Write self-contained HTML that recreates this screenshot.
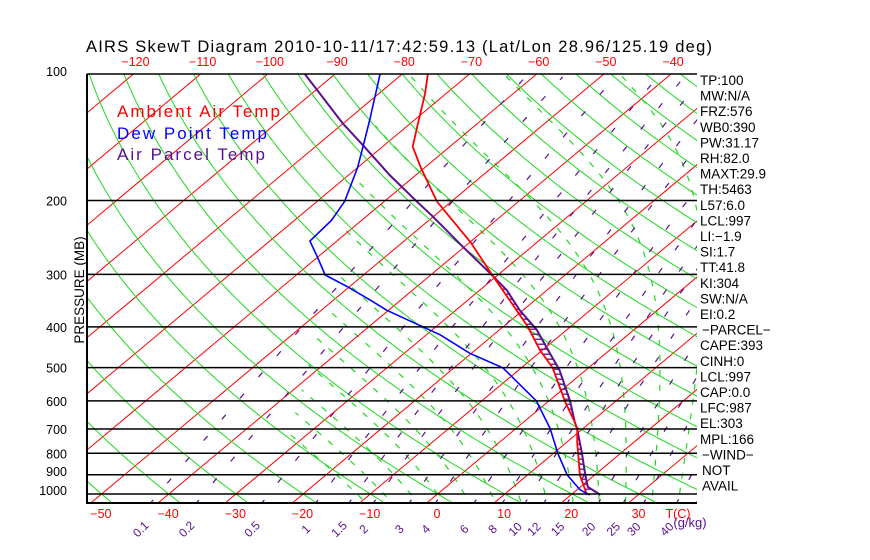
<!DOCTYPE html>
<html><head><meta charset="utf-8"><style>
html,body{margin:0;padding:0;background:#fff;width:870px;height:560px;overflow:hidden}
svg text{font-family:"Liberation Sans",sans-serif}
</style></head><body>
<svg id="chart" width="870" height="560" xmlns="http://www.w3.org/2000/svg">
<defs><clipPath id="box"><rect x="87" y="74" width="610" height="429"/></clipPath>
<clipPath id="moistclip"><polygon points="270,503 390,74 697,74 697,503"/></clipPath></defs>
<rect width="870" height="560" fill="#fff"/>
<text x="86" y="52" font-size="16.5" fill="#000" textLength="626" lengthAdjust="spacing">AIRS SkewT Diagram 2010-10-11/17:42:59.13 (Lat/Lon 28.96/125.19 deg)</text>
<g id="grid" clip-path="url(#box)"><g id="moist" clip-path="url(#moistclip)"></g></g>
<g id="profiles" clip-path="url(#box)"></g>
<g id="frame"></g>
<g id="labels"></g>
<text transform="translate(84,290) rotate(-90)" text-anchor="middle" font-size="13.5" fill="#000">PRESSURE (MB)</text>
<text x="117" y="117" font-size="17" fill="#ff0000" textLength="163" lengthAdjust="spacing">Ambient Air Temp</text>
<text x="117" y="139" font-size="17" fill="#0000ff" textLength="150" lengthAdjust="spacing">Dew Point Temp</text>
<text x="117" y="160" font-size="17" fill="#5a1090" textLength="148" lengthAdjust="spacing">Air Parcel Temp</text>
</svg>
<script>
const pressureLevels=[100,200,300,400,500,600,700,800,900,1000];
const topTempTicks=[-120,-110,-100,-90,-80,-70,-60,-50,-40];
const bottomTempTicks=[-50,-40,-30,-20,-10,0,10,20,30];
const mixingRatios=[0.1,0.2,0.5,1,1.5,2,3,4,6,8,10,12,15,20,25,30,40];
const ambientP=[100,111,131,149,167,201,251,303,355,400,454,501,601,674,700,756,901,1005];
const ambientT=[-76.2,-73.2,-68.9,-65.5,-60.6,-52.2,-40.0,-30.5,-22.4,-16.3,-10.4,-5.3,2.4,7.6,9.2,11.7,17.8,22.4];
const dewP=[100,129,149,167,201,223,250,270,301,321,345,365,418,462,501,601,700,799,901,978,1005];
const dewT=[-83.3,-76.6,-72.9,-70.0,-65.9,-64.5,-64.0,-60.5,-55.7,-50.3,-44.6,-40.3,-27.9,-20.3,-12.7,-1.8,5.2,10.6,15.9,20.5,22.8];
const parcelP=[100,131,149,174,201,218,258,303,327,365,407,454,507,601,674,700,799,901,962,1005];
const parcelT=[-94.5,-80.1,-72.7,-63.9,-55.2,-50.2,-40.2,-30.5,-26.0,-20.5,-14.4,-9.2,-3.9,3.2,7.6,9.2,14.2,18.6,21.1,24.4];
const indexLabels=["TP:100","MW:N/A","FRZ:576","WB0:390","PW:31.17","RH:82.0","MAXT:29.9","TH:5463","L57:6.0","LCL:997","LI:\u22121.9","SI:1.7","TT:41.8","KI:304","SW:N/A","EI:0.2","\u2212PARCEL\u2212","CAPE:393","CINH:0","LCL:997","CAP:0.0","LFC:987","EL:303","MPL:166","\u2212WIND\u2212","NOT","AVAIL"];

const NS="http://www.w3.org/2000/svg";
function yOf(p){return 494-182.4*Math.log(1000/p);}
function xOf(T,p){return 158+(T+40)*6.72+(503-yOf(p))*1.196;}
function mk(tag,parent,attrs){const e=document.createElementNS(NS,tag);for(const k in attrs)e.setAttribute(k,attrs[k]);parent.appendChild(e);return e;}
const grid=document.getElementById('grid'),moist=document.getElementById('moist'),prof=document.getElementById('profiles'),frame=document.getElementById('frame'),labels=document.getElementById('labels');
function pathFrom(pts){return 'M'+pts.map(q=>q[0].toFixed(1)+','+q[1].toFixed(1)).join('L');}
const pSteps=[];for(let lp=Math.log(1060);lp>=Math.log(95);lp-=0.02)pSteps.push(Math.exp(lp));

for(let T=-170;T<=50;T+=10){
 const l=mk('line',grid,{x1:xOf(T,1060),y1:yOf(1060),x2:xOf(T,95),y2:yOf(95),stroke:'#ff0000','stroke-width':1});
 
 
}
for(let th=-60;th<=200;th+=10){
 const pts=pSteps.map(p=>[xOf((th+273.15)*Math.pow(p/1000,0.286)-273.15,p),yOf(p)]);
 const e=mk('path',grid,{d:pathFrom(pts),fill:'none',stroke:'#1ed81e','stroke-width':1});
 
 
}
function es(T){return 6.112*Math.exp(17.67*T/(T+243.5));}
for(let T0=-12;T0<=44;T0+=4){
 function integ(dir){let Tk=T0+273.15,res=[];for(let lp=Math.log(1000);dir<0?lp>=Math.log(95):lp<=Math.log(1060);lp+=dir*0.01){const p=Math.exp(lp);res.push([xOf(Tk-273.15,p),yOf(p)]);const e=es(Tk-273.15),rs=0.622*e/(p-e);const num=287*Tk+2.5e6*rs,den=1004+2.5e6*2.5e6*rs*0.622/(287*Tk*Tk);Tk+=dir*0.01*num/den;}return res;}
 const pts=integ(-1).reverse().concat(integ(1));
 const e=mk('path',moist,{d:pathFrom(pts),fill:'none',stroke:'#1ed81e','stroke-width':1.2,'stroke-dasharray':'6 9'});
 
 
}
mixingRatios.forEach(w=>{
 const pts=[];for(let p=1060;p>=100;p*=0.97){const e=w*p/(622+w),l=Math.log(e/6.112);const Td=243.5*l/(17.67-l);pts.push([xOf(Td,p),yOf(p)]);}
 const e=mk('path',grid,{d:pathFrom(pts),fill:'none',stroke:'#5a1090','stroke-width':1.2,'stroke-dasharray':'6 22'});
 
 
 const p=1050,ee=w*p/(622+w),l=Math.log(ee/6.112),Td=243.5*l/(17.67-l);
 const tx=xOf(Td,p)-7;
 const t=mk('text',labels,{transform:`translate(${tx.toFixed(1)},${532}) rotate(-45)`,'font-size':12,fill:'#5a1090','text-anchor':'middle'});
 t.textContent=String(w);
 
 
});
const gk=mk('text',labels,{x:690,y:527,'font-size':13,fill:'#5a1090','text-anchor':'middle'});gk.textContent='(g/kg)';



pressureLevels.forEach(p=>{
 const y=yOf(p);
 const l=mk('line',frame,{x1:87,x2:697,y1:y,y2:y,stroke:'#000','stroke-width':1.5});
 
 
 const t=mk('text',labels,{x:67,y:y+(p==100?2:p>=900?1:5),'font-size':12.5,fill:'#000','text-anchor':'end'});
 t.textContent=String(p);
 
 
});
const fb=mk('path',frame,{d:'M87,74V503H697',fill:'none',stroke:'#000','stroke-width':2});



topTempTicks.forEach(T=>{
 const t=mk('text',labels,{x:xOf(T,100)+2,y:66,'font-size':12.5,fill:'#ff0000','text-anchor':'middle'});
 t.textContent=T<0?'\u2212'+(-T):String(T);
 
 
});
bottomTempTicks.forEach(T=>{
 const t=mk('text',labels,{x:xOf(T,1050)+10,y:518,'font-size':12.5,fill:'#ff0000','text-anchor':'middle'});
 t.textContent=T<0?'\u2212'+(-T):String(T);
 
 
});
const tc=mk('text',labels,{x:678,y:518,'font-size':12.5,fill:'#ff0000','text-anchor':'middle'});tc.textContent='T(C)';



indexLabels.forEach((s,i)=>{
 const t=mk('text',labels,{x:s.startsWith('\u2212')||s==='NOT'||s==='AVAIL'?702:700,y:85+i*15.6,'font-size':13.5,fill:'#000'});
 t.textContent=s;
 
 
});

function line(P,T){return P.map((p,i)=>[xOf(T[i],p),yOf(p)]);}
const amb=line(ambientP,ambientT),par=line(parcelP,parcelT),dew=line(dewP,dewT);
function xAt(pts,y){for(let i=0;i<pts.length-1;i++){const a=pts[i],b=pts[i+1];if((y>=a[1]&&y<=b[1])){const f=(y-a[1])/((b[1]-a[1])||1);return a[0]+f*(b[0]-a[0]);}}return null;}
const hatch=mk('g',prof,{});


for(let y=yOf(303)+3;y<=yOf(1000);y+=5){
 const xa=xAt(amb,y),xp=xAt(par,y);
 if(xa!=null&&xp!=null&&xp-xa>1){const h=mk('line',hatch,{x1:xa,x2:xp,y1:y,y2:y,stroke:'#5a1090','stroke-width':1.3});
  
  }
}
const pl=mk('path',prof,{d:pathFrom(par),fill:'none',stroke:'#5a1090','stroke-width':2});


const al=mk('path',prof,{d:pathFrom(amb),fill:'none',stroke:'#ff0000','stroke-width':1.8});


const dl=mk('path',prof,{d:pathFrom(dew),fill:'none',stroke:'#0000ff','stroke-width':1.6});


</script>
</body></html>
